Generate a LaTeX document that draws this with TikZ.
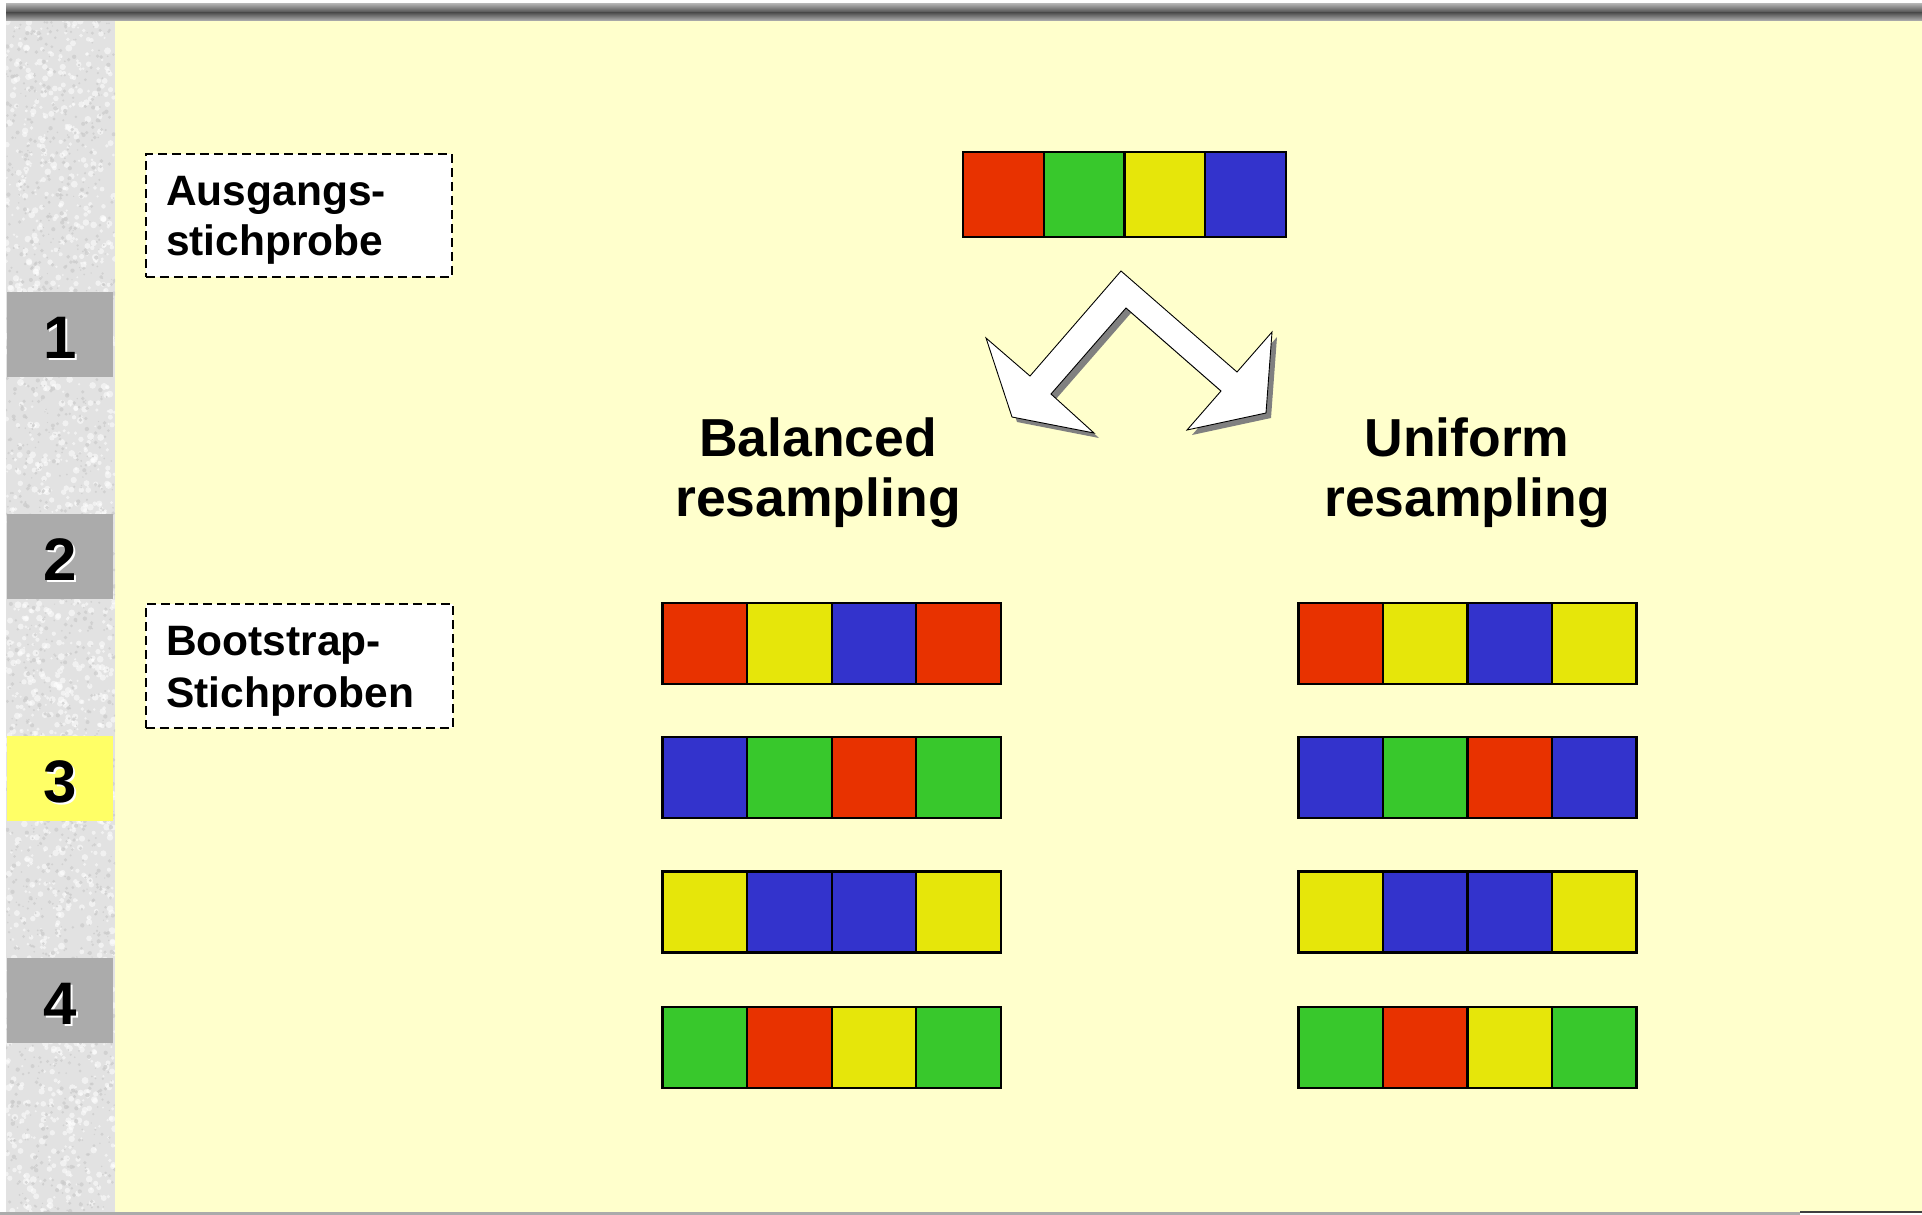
\documentclass[tikz,border=0pt]{standalone}
\usepackage{fontspec}
\setmainfont{Liberation Sans}
\definecolor{bgyellow}{HTML}{FFFFCC}
\definecolor{sqred}{HTML}{E83200}
\definecolor{sqgreen}{HTML}{38C82C}
\definecolor{sqyellow}{HTML}{E6E60A}
\definecolor{sqblue}{HTML}{3333CC}
\definecolor{tabgray}{HTML}{ABABAB}
\definecolor{tabhi}{HTML}{FFFF66}
\definecolor{sidebase}{HTML}{E2E2E2}
\definecolor{speck}{HTML}{CACACA}
\definecolor{shadowgray}{HTML}{808080}
\definecolor{barlight}{HTML}{ACACAC}
\definecolor{bardark}{HTML}{4E4E4E}

% one row of four coloured squares: name, left x, top y, square width, height, colours
\newcommand\colorrow[6]{%
  \foreach \c [count=\i] in {#6} {%
    \node[sq, minimum width=#4pt, minimum height=#5pt, fill=\c]
      (#1-\i) at ({#2+(\i-1)*#4},#3) {};
  }%
}

\begin{document}
\begin{tikzpicture}[x=1pt,y=-1pt,
  sq/.style={draw=black, line width=2.2pt, inner sep=0pt, outer sep=0pt, anchor=north west},
  labelbox/.style={draw=black, fill=white, line width=1.8pt, dash pattern=on 9pt off 5pt},
  labeltext/.style={anchor=base west, inner sep=0pt, font=\fontsize{42.5}{51}\selectfont\bfseries},
  heading/.style={anchor=base, inner sep=0pt, font=\fontsize{53.5}{58}\selectfont\bfseries},
  tab/.style={anchor=north west, inner sep=0pt, outer sep=0pt, minimum width=106pt, minimum height=85pt},
  tabnum/.style={anchor=base, inner sep=0pt, font=\fontsize{60}{60}\selectfont\bfseries}]

\useasboundingbox (0,0) rectangle (1922,1215);
\fill[white] (0,0) rectangle (1922,1215);

% page background
\fill[bgyellow] (115,21) rectangle (1922,1212);

% textured side strip
\fill[sidebase] (6,21) rectangle (115,1213);
\begin{scope}
  \clip (6,21) rectangle (115,1213);
  \pgfmathsetseed{4217}
  \foreach \k in {1,...,1600} {
    \pgfmathsetmacro\px{6+109*rnd}
    \pgfmathsetmacro\py{21+1192*rnd}
    \pgfmathsetmacro\rr{1.0+2.5*rnd}
    \fill[white, opacity=0.55] (\px,\py) circle[radius=\rr pt];
  }
  \foreach \k in {1,...,1600} {
    \pgfmathsetmacro\px{6+109*rnd}
    \pgfmathsetmacro\py{21+1192*rnd}
    \pgfmathsetmacro\rr{0.6+1.6*rnd}
    \fill[speck, opacity=0.7] (\px,\py) circle[radius=\rr pt];
  }
\end{scope}

% top bar (two shaded halves) and bottom rule
\shade[top color=barlight, bottom color=bardark] (6,4) rectangle (1922,12.6);
\shade[top color=bardark, bottom color=barlight!92!white] (6,12.5) rectangle (1922,21);
\fill[black!33] (0,1212) rectangle (1800,1215);
\fill[black!75] (1800,1211) rectangle (1922,1213);

% numbered tabs
\foreach \n in {1,...,4} {
  \pgfmathsetmacro\ty{292+222*(\n-1)}
  \ifnum\n=3
    \node[tab, fill=tabhi] (tab\n) at (7,\ty) {};
  \else
    \node[tab, fill=tabgray] (tab\n) at (7,\ty) {};
  \fi
  \node[tabnum, white] (tabnums\n) at (62,\ty+68) {\n};
  \node[tabnum, black] (tabnum\n) at (60,\ty+66) {\n};
}

% labels on the left
\node[labelbox, minimum width=306pt, minimum height=123pt, anchor=north west, inner sep=0pt] (lbl1) at (145,153) {};
\node[labeltext] (lbl1a) at (166,205) {Ausgangs-};
\node[labeltext] (lbl1b) at (166,255) {stichprobe};
\node[labelbox, minimum width=307pt, minimum height=124pt, anchor=north west, inner sep=0pt] (lbl2) at (145,603) {};
\node[labeltext] (lbl2a) at (166,655) {Bootstrap-};
\node[labeltext] (lbl2b) at (166,707) {Stichproben};

% original sample
\colorrow{orig}{963}{152}{80.75}{85}{sqred,sqgreen,sqyellow,sqblue}

% forked arrow with drop shadow
\def\forkpath{(1121,271) -- (1030,376) -- (986,338) -- (1012,417) -- (1094,433)
  -- (1051,394) -- (1126,308) -- (1221,391) -- (1187,430) -- (1266,413)
  -- (1272,332) -- (1237,372) -- cycle}
\fill[shadowgray, shift={(5,5)}] \forkpath;
\filldraw[fill=white, draw=black, line width=0.9pt, line join=miter] \forkpath;

% headings
\node[heading] (balA) at (818,456) {Balanced};
\node[heading] (balB) at (818,516) {resampling};
\node[heading] (uniA) at (1467,456) {Uniform};
\node[heading] (uniB) at (1467,516) {resampling};

% bootstrap samples, balanced
\colorrow{bal1}{662.5}{603}{84.6}{81}{sqred,sqyellow,sqblue,sqred}
\colorrow{bal2}{662.5}{737}{84.6}{81}{sqblue,sqgreen,sqred,sqgreen}
\colorrow{bal3}{662.5}{871.5}{84.6}{81}{sqyellow,sqblue,sqblue,sqyellow}
\colorrow{bal4}{662.5}{1007}{84.6}{81}{sqgreen,sqred,sqyellow,sqgreen}

% bootstrap samples, uniform
\colorrow{uni1}{1298.5}{603}{84.5}{81}{sqred,sqyellow,sqblue,sqyellow}
\colorrow{uni2}{1298.5}{737}{84.5}{81}{sqblue,sqgreen,sqred,sqblue}
\colorrow{uni3}{1298.5}{871.5}{84.5}{81}{sqyellow,sqblue,sqblue,sqyellow}
\colorrow{uni4}{1298.5}{1007}{84.5}{81}{sqgreen,sqred,sqyellow,sqgreen}
\end{tikzpicture}
\end{document}
